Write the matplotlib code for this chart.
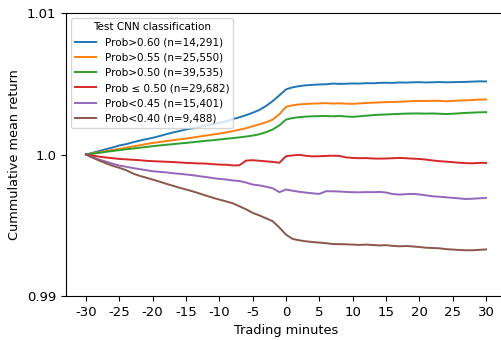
import numpy as np
import matplotlib
matplotlib.use("Agg")
import matplotlib.pyplot as plt

minutes = list(range(-30, 31))

# cumulative mean return, expressed in basis points above 1.0
bps_gt060 = [0, 1.2, 2.5, 3.8, 5.0, 6.4, 7.3, 8.6, 9.8, 10.8,
             11.8, 13.0, 14.3, 15.5, 16.6, 17.7, 18.5, 19.4, 20.6, 21.4,
             22.4, 23.5, 25.0, 26.3, 27.8, 29.5, 31.5, 34.3, 37.7, 41.8,
             46.0, 47.5, 48.3, 48.9, 49.2, 49.5, 49.6, 50.1, 49.9, 50.0,
             50.2, 50.1, 50.4, 50.3, 50.6, 50.7, 50.6, 50.9, 50.8, 51.0,
             51.1, 50.9, 51.0, 51.2, 51.0, 51.1, 51.2, 51.3, 51.5, 51.7, 51.6]
bps_gt055 = [0, 0.8, 1.6, 2.4, 3.2, 4.0, 4.8, 5.7, 6.5, 7.4,
             8.2, 8.8, 9.5, 10.1, 10.7, 11.3, 12.0, 12.7, 13.4, 14.1,
             14.8, 15.6, 16.5, 17.5, 18.6, 20.0, 21.3, 22.8, 24.7, 28.5,
             33.7, 34.8, 35.4, 35.7, 36.0, 36.1, 36.3, 36.0, 36.2, 35.9,
             35.8, 36.1, 36.4, 36.6, 36.8, 37.0, 37.1, 37.3, 37.5, 37.7,
             37.9, 37.8, 38.0, 37.9, 37.6, 37.9, 38.1, 38.3, 38.5, 38.8, 38.9]
bps_gt050 = [0, 0.6, 1.2, 1.9, 2.5, 3.1, 3.7, 4.2, 4.8, 5.3,
             5.9, 6.4, 6.9, 7.3, 7.8, 8.2, 8.7, 9.2, 9.7, 10.1,
             10.6, 11.1, 11.6, 12.1, 12.7, 13.4, 14.3, 15.8, 17.7, 20.6,
             24.7, 25.8, 26.4, 26.8, 27.0, 27.1, 27.2, 27.0, 27.2, 26.9,
             26.6, 27.0, 27.4, 27.8, 28.1, 28.3, 28.5, 28.7, 28.9, 29.0,
             29.0, 28.9, 29.0, 28.8, 28.6, 28.8, 29.1, 29.4, 29.6, 29.8, 29.9]
bps_le050 = [0, -0.8, -1.5, -2.1, -2.6, -3.1, -3.4, -3.7, -4.0, -4.4,
             -4.7, -4.9, -5.1, -5.3, -5.6, -5.9, -6.1, -6.3, -6.4, -6.8,
             -7.1, -7.2, -7.7, -7.6, -4.3, -4.0, -4.4, -4.8, -5.2, -5.8,
             -1.2, -0.6, -0.2, -0.9, -1.3, -1.2, -1.0, -0.8, -1.0, -2.0,
             -2.4, -2.6, -2.5, -2.8, -2.9, -2.8, -2.6, -2.4, -2.6, -2.9,
             -3.1, -3.6, -4.2, -4.7, -5.0, -5.4, -5.8, -6.1, -6.2, -5.9, -5.9]
bps_lt045 = [0, -2.0, -3.6, -5.0, -6.5, -7.8, -8.6, -9.5, -10.3, -11.0,
             -11.8, -12.2, -12.6, -13.2, -13.6, -14.1, -14.6, -15.3, -15.9, -16.6,
             -17.2, -17.6, -18.3, -18.7, -19.8, -21.2, -21.8, -22.7, -23.8, -26.6,
             -24.7, -25.6, -26.3, -26.9, -27.4, -27.8, -25.9, -26.0, -26.1, -26.4,
             -26.6, -26.7, -26.5, -26.6, -26.4, -26.8, -27.9, -28.3, -28.0, -27.8,
             -28.2, -28.8, -29.5, -29.8, -30.2, -30.6, -31.0, -31.4, -31.2, -30.9, -30.6]
bps_lt040 = [0, -2.2, -4.3, -6.2, -8.0, -9.4, -11.0, -13.3, -15.0, -16.3,
             -17.7, -19.1, -20.6, -22.0, -23.4, -24.7, -26.0, -27.5, -29.0, -30.5,
             -31.8, -33.1, -34.4, -36.5, -38.7, -41.2, -43.0, -45.0, -47.1, -51.5,
             -56.6, -59.6, -60.6, -61.3, -61.8, -62.2, -62.6, -63.2, -63.3, -63.4,
             -63.6, -63.8, -63.6, -63.9, -64.2, -64.0, -64.5, -64.8, -64.6, -64.9,
             -65.3, -65.8, -66.0, -66.2, -66.8, -67.1, -67.4, -67.6, -67.6, -67.3, -67.0]

labels = ["Prob>0.60 (n=14,291)", "Prob>0.55 (n=25,550)", "Prob>0.50 (n=39,535)",
          "Prob ≤ 0.50 (n=29,682)", "Prob<0.45 (n=15,401)", "Prob<0.40 (n=9,488)"]
series = [bps_gt060, bps_gt055, bps_gt050, bps_le050, bps_lt045, bps_lt040]
colors = ["#1f77b4", "#ff7f0e", "#2ca02c", "#d62728", "#9467bd", "#8c564b"]

xticks = list(range(-30, 31, 5))
yticks = [0.99, 1.0, 1.01]
yticklabels = ["0.99", "1.0", "1.01"]

fig = plt.figure(figsize=(5.02, 3.40), dpi=100)
ax = fig.add_axes([0.1315, 0.129, 0.8765, 0.833])
x = np.array(minutes)
for s, lab, c in zip(series, labels, colors):
    ax.plot(x, 1 + np.array(s) / 1e4, color=c, lw=1.4, label=lab)

ax.set_xlim(-33, 33)
ax.set_ylim(0.99, 1.01)
ax.set_xticks(xticks)
ax.set_xticklabels([str(t) for t in xticks])
ax.set_yticks(yticks)
ax.set_yticklabels(yticklabels)
ax.tick_params(labelsize=9.5)
ax.set_xlabel("Trading minutes", fontsize=9.3)
ax.set_ylabel("Cummulative mean return", fontsize=9.3)
leg = ax.legend(title="Test CNN classification", fontsize=7.5, title_fontsize=7.5,
                loc="upper left", handlelength=2.0)
fig.savefig("out.png", dpi=100)
